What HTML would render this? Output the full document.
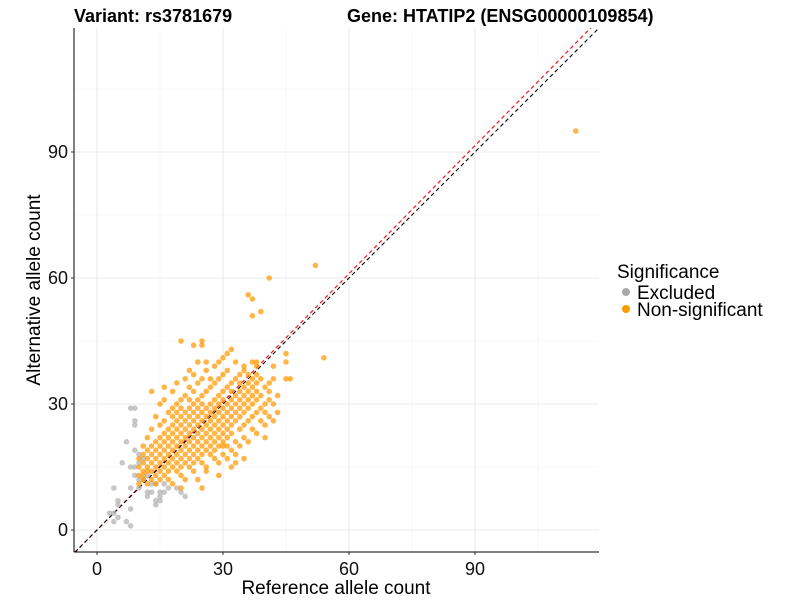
<!DOCTYPE html>
<html><head><meta charset="utf-8"><style>
body{margin:0;background:#fff;font-family:"Liberation Sans",sans-serif}
svg text{font-family:"Liberation Sans",sans-serif}
</style></head><body>
<svg id="chart" width="800" height="600" xmlns="http://www.w3.org/2000/svg">
<defs><clipPath id="clip"><rect x="74" y="28" width="525" height="524"/></clipPath></defs>
<text x="74" y="22" font-size="18" font-weight="bold">Variant: rs3781679</text>
<text x="347" y="22" font-size="18" font-weight="bold">Gene: HTATIP2 (ENSG00000109854)</text>
<g id="grid"></g>
<g id="lines" clip-path="url(#clip)"></g>
<g id="pts" clip-path="url(#clip)"></g>
<line x1="74" y1="28" x2="74" y2="552" stroke="#000" stroke-width="1"/>
<line x1="74" y1="552" x2="599" y2="552" stroke="#000" stroke-width="1"/>
<g id="ticks"></g>
<text x="336" y="594" font-size="19" text-anchor="middle">Reference allele count</text>
<text transform="translate(40,290) rotate(-90)" font-size="19" text-anchor="middle">Alternative allele count</text>
<g>
<text x="617" y="278" font-size="19">Significance</text>
<circle cx="626" cy="292" r="4" fill="#aaaaaa"/>
<text x="637" y="299" font-size="19">Excluded</text>
<circle cx="626" cy="309" r="4" fill="#ff9900"/>
<text x="637" y="316" font-size="19">Non-significant</text>
</g>
</svg>
<script>
const tickValues=[0,30,60,90];
const minorValues=[15,45,75,105];
const excludedX=[8,9,9,9,7,9,6,8,9,12,11,13,14,10,8,4,15,13,12,16,12,15,15,14,14,5,5,4,3,5,4,8,7,8,10,20,21,19,17,16,9,10,10,11];
const excludedY=[29,29,26,25,21,19,16,15,15,13,12,11,11,10,10,10,9,9,9,9,8,8,7,7,6,7,6,4,4,3,2,5,2,1,12,9,8,10,10,11,13,16,18,17];
const orangeCols={10:[11,13,15,17],11:[12,14,16,18,20,13],12:[11,15,17,19,22,14],13:[12,14,16,18,24,20,33],14:[13,15,17,19,21,27,11],15:[12,14,16,18,20,22,25,30],16:[13,15,17,19,21,23,26,31,34],17:[14,16,18,20,22,24,28,12],18:[15,17,19,21,23,25,27,29,33,11],19:[14,16,18,20,22,24,26,28,30,35],20:[13,15,17,19,21,23,25,27,29,31,45,10],21:[16,18,20,22,24,26,28,32,36,12],22:[15,17,19,21,23,25,27,29,31,34,38],23:[14,16,18,20,22,24,26,28,30,33,37,44],24:[17,19,21,23,25,27,29,31,35,40,12],25:[10,16,18,20,22,24,26,28,30,32,36,45,44],26:[15,19,21,23,25,27,29,33,38,40,14],27:[18,20,22,24,26,28,30,34,36],28:[17,19,21,23,25,27,29,31,35,39],29:[16,20,22,24,26,28,30,32,36,40,13],30:[18,21,23,25,27,29,31,33,37,41,20],31:[17,20,22,24,26,28,30,34,38,42],32:[19,23,25,27,29,31,33,35,43,15],33:[18,21,26,28,30,32,36,40,16],34:[20,24,27,29,31,33,37,35],35:[22,25,28,30,32,34,38,39,17],36:[21,26,29,31,33,35,37,56],37:[24,27,30,32,34,36,40,55,51],38:[23,28,31,33,35,37,39,40],39:[26,29,32,36,52],40:[25,28,30,34,22],41:[27,31,35,60,33],42:[30,36,39,26],43:[28,32],45:[36,40,42],46:[36],52:[63],54:[41],114:[95]};
const sx=v=>97+4.2*v, sy=v=>530-4.2*v;
const NS="http://www.w3.org/2000/svg";
function mk(t,a,p){const e=document.createElementNS(NS,t);for(const k in a)e.setAttribute(k,a[k]);p.appendChild(e);return e;}
const grid=document.getElementById('grid');
minorValues.forEach(v=>{
 const a=mk('line',{x1:sx(v),x2:sx(v),y1:28,y2:552,stroke:'#f3f3f3','stroke-width':0.6},grid);
 
 
 const b=mk('line',{x1:74,x2:599,y1:sy(v),y2:sy(v),stroke:'#f3f3f3','stroke-width':0.6},grid);
 
 
});
const ticks=document.getElementById('ticks');
tickValues.forEach(v=>{
 const a=mk('line',{x1:sx(v),x2:sx(v),y1:28,y2:552,stroke:'#ebebeb','stroke-width':1.1},grid);
 
 
 const b=mk('line',{x1:74,x2:599,y1:sy(v),y2:sy(v),stroke:'#ebebeb','stroke-width':1.1},grid);
 
 
 const t1=mk('text',{x:sx(v),y:575,'font-size':18,'text-anchor':'middle',fill:'#111'},ticks);t1.textContent=v;
 
 
 const t2=mk('text',{x:68,y:sy(v)+6,'font-size':18,'text-anchor':'end',fill:'#111'},ticks);t2.textContent=v;
 
 
 const k1=mk('line',{x1:sx(v),x2:sx(v),y1:552,y2:555,stroke:'#333'},ticks);
 
 
 const k2=mk('line',{x1:71,x2:74,y1:sy(v),y2:sy(v),stroke:'#333'},ticks);
 
 
});
const pts=document.getElementById('pts');
excludedX.forEach((x,i)=>{
 const c=mk('circle',{cx:sx(x),cy:sy(excludedY[i]),r:2.8,fill:'#b4b4b4','fill-opacity':0.75},pts);
 
 
});
Object.keys(orangeCols).forEach(k=>{
 orangeCols[k].forEach(y=>{
  const c=mk('circle',{cx:sx(+k),cy:sy(y),r:2.8,fill:'#ff9900','fill-opacity':0.72},pts);
  
  
 });
});
const lines=document.getElementById('lines');
const red=mk('line',{x1:sx(-10),y1:sy(-10*1.017),x2:sx(130),y2:sy(130*1.017),stroke:'#ff0000','stroke-width':1.1,'stroke-dasharray':'4,3'},lines);


const blk=mk('line',{x1:sx(-10),y1:sy(-10),x2:sx(130),y2:sy(130),stroke:'#000','stroke-width':1.1,'stroke-dasharray':'4,3'},lines);


</script>
</body></html>
